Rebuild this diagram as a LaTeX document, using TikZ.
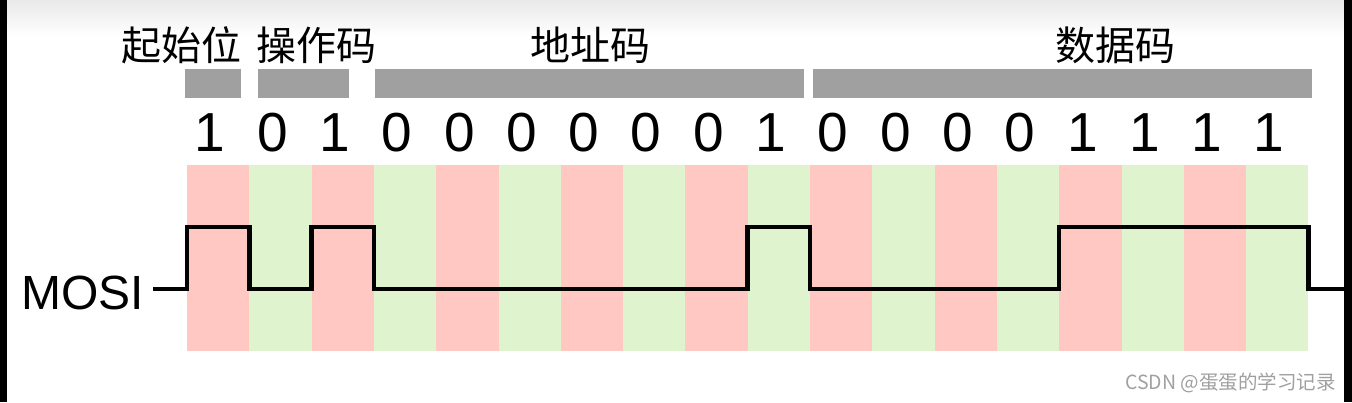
\documentclass[tikz,border=0pt]{standalone}
\usepackage{fontspec}
\setmainfont{Liberation Sans}
\newfontfamily\cjk{Noto Sans CJK SC}
\definecolor{bitpink}{HTML}{FFC8C3}
\definecolor{bitgreen}{HTML}{DFF3CE}
\definecolor{bargray}{HTML}{A0A0A0}
\definecolor{topgray}{HTML}{E9E9E9}
\definecolor{wmgray}{HTML}{A0A0A0}
\begin{document}
\begin{tikzpicture}[x=1pt,y=-1pt,
  fieldbar/.style={fill=bargray,draw=none},
  fieldlabel/.style={font=\cjk\fontsize{40}{44}\selectfont,inner sep=0pt,anchor=center},
  bitlabel/.style={font=\fontsize{55}{60}\selectfont,inner sep=0pt,anchor=base},
  wave/.style={line width=4.5pt,black,line join=miter}]
\useasboundingbox (0,0) rectangle (1352,402);
\fill[white] (0,0) rectangle (1352,402);
\shade[top color=topgray,bottom color=white] (0,0) rectangle (1352,36);
\fill[black] (0,0) rectangle (7,402);
\fill[black] (1344,0) rectangle (1352,402);
% stripes
\foreach \i in {0,...,17}{
  \pgfmathsetmacro{\xa}{187+\i*62.3}
  \pgfmathsetmacro{\xb}{187+(\i+1)*62.3}
  \pgfmathparse{mod(\i,2)==0 ? "bitpink" : "bitgreen"}
  \fill[\pgfmathresult] (\xa,165) rectangle (\xb,351);
}
% field bars
\fill[fieldbar] (185,69) rectangle (241,98);
\fill[fieldbar] (258,69) rectangle (349,98);
\fill[fieldbar] (375,69) rectangle (804,98);
\fill[fieldbar] (813,69) rectangle (1312,98);
% field labels
\node[fieldlabel] (lstart) at (181,45) {起始位};
\node[fieldlabel] (lop) at (316,45) {操作码};
\node[fieldlabel] (laddr) at (590,45) {地址码};
\node[fieldlabel] (ldata) at (1115,45) {数据码};
% bits
\foreach \b [count=\i from 0] in {1,0,1,0,0,0,0,0,0,1,0,0,0,0,1,1,1,1}{
  \pgfmathsetmacro{\xc}{187+(\i+0.5)*62.3-8}
  \node[bitlabel] (bit\i) at (\xc,151) {\b};
}
% MOSI label
\node[font=\fontsize{48}{52}\selectfont,inner sep=0pt,anchor=base west] (mosi) at (21,309) {MOSI};
% waveform
\coordinate (w0) at (153,289);
\coordinate (w1) at (187,289);
\coordinate (w2) at (187,227);
\coordinate (w3) at (249.3,227);
\coordinate (w4) at (249.3,289);
\coordinate (w5) at (311.6,289);
\coordinate (w6) at (311.6,227);
\coordinate (w7) at (373.9,227);
\coordinate (w8) at (373.9,289);
\coordinate (w9) at (747.7,289);
\coordinate (w10) at (747.7,227);
\coordinate (w11) at (810,227);
\coordinate (w12) at (810,289);
\coordinate (w13) at (1059.2,289);
\coordinate (w14) at (1059.2,227);
\coordinate (w15) at (1308.4,227);
\coordinate (w16) at (1308.4,289);
\coordinate (w17) at (1344,289);
\draw[wave] (w0) -- (w1) -- (w2) -- (w3) -- (w4) -- (w5) -- (w6) -- (w7) -- (w8) -- (w9) -- (w10) -- (w11) -- (w12) -- (w13) -- (w14) -- (w15) -- (w16) -- (w17);
% watermark
\node[font=\cjk\fontsize{19.5}{22}\selectfont,text=wmgray,inner sep=0pt,anchor=east] (wm) at (1336,383) {CSDN @蛋蛋的学习记录};
\end{tikzpicture}
\end{document}
